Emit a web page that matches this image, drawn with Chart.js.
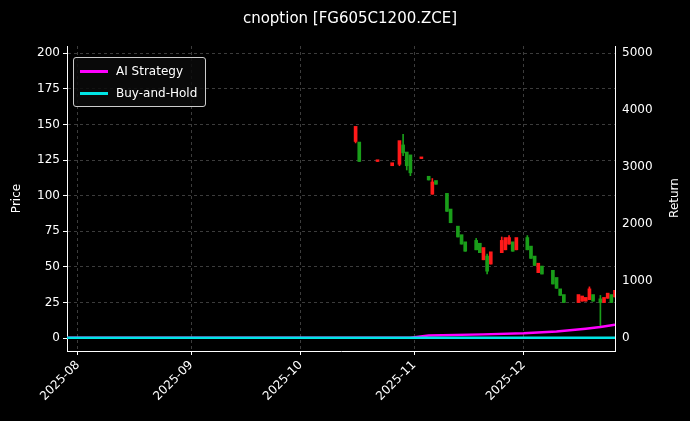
<!DOCTYPE html>
<html><head><meta charset="utf-8">
<script src="https://cdn.jsdelivr.net/npm/chart.js@4"></script>
<style>
body{margin:0;background:#000;font-family:"DejaVu Sans",sans-serif;}
#wrap{position:relative;width:690px;height:421px;}
#legend{position:absolute;left:73px;top:57px;border:1px solid #ccc;border-radius:3px;background:rgba(10,10,10,0.85);padding:2px 8px 2px 6px;color:#fff;font-size:12px;line-height:22px;}
#legend span.l{display:inline-block;width:28px;height:3px;vertical-align:middle;margin-right:8px;}
</style></head><body>
<div id="wrap"><canvas id="c" width="690" height="421"></canvas>
<div id="legend"><div><span class="l" style="background:#ff00ff"></span>AI Strategy</div><div><span class="l" style="background:#00e5e5"></span>Buy-and-Hold</div></div></div>
<script>
const candleDates=["2025-10-16","2025-10-17","2025-10-22","2025-10-26","2025-10-28","2025-10-29","2025-10-30","2025-10-31","2025-11-03","2025-11-05","2025-11-06","2025-11-07","2025-11-10","2025-11-11","2025-11-13","2025-11-14","2025-11-15","2025-11-18","2025-11-19","2025-11-20","2025-11-21","2025-11-22","2025-11-25","2025-11-26","2025-11-27","2025-11-28","2025-11-29","2025-12-02","2025-12-03","2025-12-04","2025-12-05","2025-12-06","2025-12-09","2025-12-10","2025-12-11","2025-12-12","2025-12-16","2025-12-17","2025-12-18","2025-12-19","2025-12-20","2025-12-22","2025-12-23","2025-12-24","2025-12-25","2025-12-26"];
const opens =[138,137,124,121,122,135,130,128,126,113,101,110,101,90,78,72,67,68,66,55,57,52,60,62,66,67,62,70,64,57,46,50,47,42,34,30,25,26,26,27,30,27,25,28,30,29];
const closes=[148,124,124.6,122.5,138,130,121,116,126.6,111,109,108,89,81,71,66,61,62,60,63,47,60,68,70,70,61,70,62,56,51,52,45,38,35,30,25,30,29,28,34,26,25,28,31,25,33];
const highs =[148,137,124.6,122.5,138,143,130,128,126.6,113,112,110,101,90,78,72,67,70,66,63,59,60,71,70,72,67,70,72,64,57,52,50,47,42,34,30,30,29,28,36,30,30,28,31,30,33];
const lows  =[137,124,124,121,121,128,118,114,126,111,101,108,89,81,71,66,61,62,60,55,45,52,60,62,66,61,62,62,56,51,46,45,38,35,30,25,25,26,26,27,26,8,25,28,25,29];
const retDates=["2025-07-29","2025-10-31","2025-11-05","2025-11-20","2025-12-01","2025-12-10","2025-12-18","2025-12-22","2025-12-26"];
const aiReturn=[0,0,40,60,80,110,160,190,230];
const bhDates=["2025-07-29","2025-12-26"];
const bhReturn=[0,0];
const tickDates=["2025-08-01","2025-09-01","2025-10-01","2025-11-01","2025-12-01"];
const tickLabels=["2025-08","2025-09","2025-10","2025-11","2025-12"];

const base=Date.UTC(2025,7,1);
const d=s=>{const [y,m,dd]=s.split("-").map(Number);return (Date.UTC(y,m-1,dd)-base)/86400000;};
const col=i=>closes[i]>=opens[i]?"#ff1a1a":"#1a9e1a";
const tickVals=tickDates.map(d);
const grid={color:"rgba(150,150,150,0.4)",drawTicks:true,tickColor:"#fff",tickLength:4,offset:false};
const bord={color:"#fff",dash:[3,3]};
const F={size:12,family:"DejaVu Sans"};
const retTitle={id:"rt",afterDraw(c){const x=c.ctx;x.save();x.fillStyle="#fff";x.font="12px DejaVu Sans";x.translate(675,198);x.rotate(-Math.PI/2);x.textAlign="center";x.textBaseline="middle";x.fillText("Return",0,0);x.restore();}};
new Chart(document.getElementById("c"),{
 type:"bar",
 data:{datasets:[
  {type:"bar",yAxisID:"y",data:candleDates.map((s,i)=>({x:d(s),y:[lows[i],highs[i]]})),backgroundColor:candleDates.map((s,i)=>col(i)),barThickness:1,grouped:false,order:2},
  {type:"bar",yAxisID:"y",data:candleDates.map((s,i)=>({x:d(s),y:[Math.min(opens[i],closes[i]),Math.max(opens[i],closes[i])+0.6]})),backgroundColor:candleDates.map((s,i)=>col(i)),barThickness:3,grouped:false,order:2},
  {type:"line",yAxisID:"y2",data:retDates.map((s,i)=>({x:d(s),y:aiReturn[i]})),borderColor:"#ff00ff",borderWidth:2.5,pointRadius:0,order:1},
  {type:"line",yAxisID:"y2",data:bhDates.map((s,i)=>({x:d(s),y:bhReturn[i]})),borderColor:"#00e5e5",borderWidth:2.5,pointRadius:0,order:0}
 ]},
 plugins:[retTitle],
 options:{responsive:false,animation:false,
  layout:{padding:{left:10}},
  plugins:{legend:{display:false},tooltip:{enabled:false},
   title:{display:true,text:"cnoption [FG605C1200.ZCE]",color:"#fff",font:{size:15,family:"DejaVu Sans",weight:"normal"},padding:{top:10,bottom:18}}},
  scales:{
   x:{type:"linear",min:d("2025-07-29"),max:d("2025-12-26"),offset:false,
     afterBuildTicks:a=>{a.ticks=tickVals.map(v=>({value:v}));},
     afterFit:s=>{s.height=70;},
     ticks:{color:"#fff",font:F,maxRotation:45,minRotation:45,autoSkip:false,callback:v=>tickLabels[tickVals.indexOf(v)]},
     grid:grid,border:bord},
   y:{position:"left",min:-9,max:205,
     afterBuildTicks:a=>{a.ticks=[0,25,50,75,100,125,150,175,200].map(v=>({value:v}));},
     afterFit:s=>{s.width=57;},
     ticks:{color:"#fff",font:F},
     title:{display:true,text:"Price",color:"#fff",font:F,padding:0},
     grid:grid,border:bord},
   y2:{position:"right",min:-232,max:5125,
     afterBuildTicks:a=>{a.ticks=[0,1000,2000,3000,4000,5000].map(v=>({value:v}));},
     afterFit:s=>{s.width=75;},
     ticks:{color:"#fff",font:F,callback:v=>String(v)},
     grid:{display:false,drawTicks:true,tickColor:"#fff",tickLength:4},border:{color:"#fff"}}
  }}
});
</script></body></html>
